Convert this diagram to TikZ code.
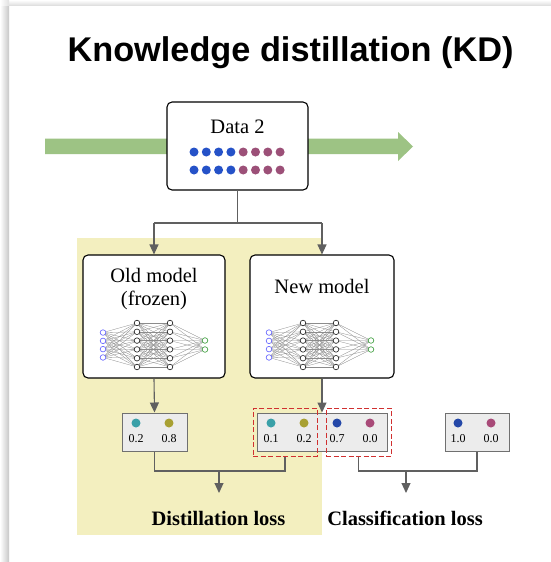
\documentclass[tikz,border=0pt]{standalone}
\usepackage{fontspec}
\setmainfont{Liberation Serif}
\newfontfamily\titlefont{Liberation Sans}
\usetikzlibrary{arrows.meta,calc}

\definecolor{flowgreen}{HTML}{9DC384}
\definecolor{kdyellow}{HTML}{F3EFBF}
\definecolor{dotblue}{HTML}{2552C8}
\definecolor{dotplum}{HTML}{9C5078}
\definecolor{outblue}{HTML}{2448A8}
\definecolor{outplum}{HTML}{A84A78}
\definecolor{outteal}{HTML}{3AA0A8}
\definecolor{outolive}{HTML}{A8A032}
\definecolor{linkgray}{HTML}{606060}
\definecolor{boxfill}{HTML}{ECECEC}
\definecolor{dashred}{HTML}{D03030}

\tikzset{
  modelbox/.style={draw=black, line width=1.1pt, rounded corners=5pt, fill=white},
  probbox/.style={draw=linkgray!90, line width=1pt, fill=boxfill},
  selbox/.style={draw=dashred, line width=1pt, dash pattern=on 5pt off 2.5pt},
  link/.style={draw=linkgray, line width=1.1pt},
  linkarrow/.style={link, -{Triangle[length=10pt,width=9pt]}},
  datadot/.style={circle, inner sep=0pt, minimum size=9pt},
  probdot/.style={circle, inner sep=0pt, minimum size=9pt},
  probnum/.style={inner sep=0pt, font=\fontsize{12}{12}\selectfont},
  bodytext/.style={inner sep=0pt, font=\fontsize{20.5}{24}\selectfont},
  losstext/.style={inner sep=0pt, font=\fontsize{20.5}{24}\selectfont\bfseries},
  neuron/.style={circle, draw, fill=white, inner sep=0pt, minimum size=5.6pt, line width=0.65pt},
  synapse/.style={draw=black!45, line width=0.3pt}
}

% small fully connected network: layer sizes 4-6-6-2
\newcommand{\drawnet}[2]{% #1 = x of input layer, #2 = centre y
  \foreach \l/\n/\dx in {0/4/0, 1/6/34, 2/6/67, 3/2/102}{
    \pgfmathsetmacro{\sp}{\n==4 ? 8.3 : (\n==6 ? 8.8 : 9)}
    \foreach \i in {1,...,\n}{
      \coordinate (n-\l-\i) at ({#1+\dx},{#2+(\i-(\n+1)/2)*\sp});
    }
  }
  \foreach \a/\na/\b/\nb in {0/4/1/6, 1/6/2/6, 2/6/3/2}{
    \foreach \i in {1,...,\na}{
      \foreach \j in {1,...,\nb}{
        \draw[synapse] (n-\a-\i) -- (n-\b-\j);
      }
    }
  }
  \foreach \i in {1,...,4}{\node[neuron, draw=blue!60] at (n-0-\i) {};}
  \foreach \i in {1,...,6}{\node[neuron, draw=black!85] at (n-1-\i) {};}
  \foreach \i in {1,...,6}{\node[neuron, draw=black!85] at (n-2-\i) {};}
  \foreach \i in {1,...,2}{\node[neuron, draw=green!50!black!75] at (n-3-\i) {};}
}

\begin{document}
\begin{tikzpicture}[x=1pt, y=-1pt]
  \useasboundingbox (0,0) rectangle (551,562);
  \fill[white] (0,0) rectangle (551,562);

  % card shadow along the left and top edges
  \shade[left color=white, right color=black!22] (0,5) rectangle (9,562);
  \shade[top color=white, bottom color=black!12] (9,0) rectangle (551,5);
  \shade[left color=white, right color=black!12] (0,0) rectangle (9,5);

  % title
  \node[inner sep=0pt, font=\titlefont\fontsize{34.3}{40}\selectfont\bfseries] (title) at (290.5,53) {Knowledge distillation (KD)};

  % distillation area
  \fill[kdyellow] (77,238) rectangle (322,535);

  % data stream
  \fill[flowgreen] (45,138.5) -- (398,138.5) -- (398,132) -- (413,146.5) -- (398,161) -- (398,154) -- (45,154) -- cycle;

  % data box
  \draw[modelbox] (167,102) rectangle (308,190);
  \node (data) at (237.5,146) [minimum width=141pt, minimum height=88pt, inner sep=0pt] {};
  \node[bodytext] (datalbl) at (237.5,127) {Data 2};
  \foreach \k in {0,...,3}{
    \node[datadot, fill=dotblue] (da\k) at ({194+\k*12.3},152) {};
    \node[datadot, fill=dotblue] (db\k) at ({194+\k*12.3},170) {};
  }
  \foreach \k in {4,...,7}{
    \node[datadot, fill=dotplum] (da\k) at ({194+\k*12.3},152) {};
    \node[datadot, fill=dotplum] (db\k) at ({194+\k*12.3},170) {};
  }

  % models
  \node[modelbox, minimum width=142pt, minimum height=123pt, inner sep=0pt] (old) at (154,316.5) {};
  \node[modelbox, minimum width=144pt, minimum height=123pt, inner sep=0pt] (new) at (322,316.5) {};
  \node[bodytext] (oldlbl1) at (154,275) {Old model};
  \node[bodytext] (oldlbl2) at (154,300) {(frozen)};
  \node[bodytext] (newlbl) at (322,286) {New model};
  \drawnet{103}{345}
  \drawnet{269}{345}

  % fan-out from the data box
  \coordinate (split) at (237.5,223);
  \draw[link] (data.south) -- (split);
  \draw[link] (154,223) -- (322,223);
  \draw[linkarrow] (154,223) -- (old.north);
  \draw[linkarrow] (322,223) -- (new.north);

  % output probabilities
  \node[probbox, minimum width=65pt, minimum height=38pt, inner sep=0pt] (oldout) at (154.5,432) {};
  \node[probbox, minimum width=130pt, minimum height=38pt, inner sep=0pt] (newout) at (322,432) {};
  \node[probbox, minimum width=64pt, minimum height=38pt, inner sep=0pt] (gt) at (477,432) {};

  \draw[linkarrow] (old.south) -- (oldout.north);
  \draw[linkarrow] (new.south) -- (newout.north);

  \foreach \nm/\x/\c/\v in {o1/136/outteal/0.2, o2/169/outolive/0.8,
                             n1/271/outteal/0.1, n2/304/outolive/0.2,
                             n3/337/outblue/0.7, n4/370/outplum/0.0,
                             g1/458/outblue/1.0, g2/491/outplum/0.0}{
    \node[probdot, fill=\c] (d\nm) at (\x,423) {};
    \node[probnum] (v\nm) at (\x,439) {\v};
  }

  % selections of the new model's outputs
  \node[selbox, minimum width=64pt, minimum height=48pt, inner sep=0pt] (selA) at (285,432) {};
  \node[selbox, minimum width=65pt, minimum height=48pt, inner sep=0pt] (selB) at (358.5,432) {};

  % losses
  \node[losstext] (dloss) at (218.5,518) {Distillation loss};
  \node[losstext] (closs) at (405,518) {Classification loss};

  \coordinate (dj) at (219,471);
  \coordinate (cj) at (406,471);
  \draw[link] (oldout.south) |- (dj) -| (selA.south);
  \draw[linkarrow] (dj) -- (219,493);
  \draw[link] (selB.south) |- (cj) -| (gt.south);
  \draw[linkarrow] (cj) -- (406,493);
\end{tikzpicture}
\end{document}
